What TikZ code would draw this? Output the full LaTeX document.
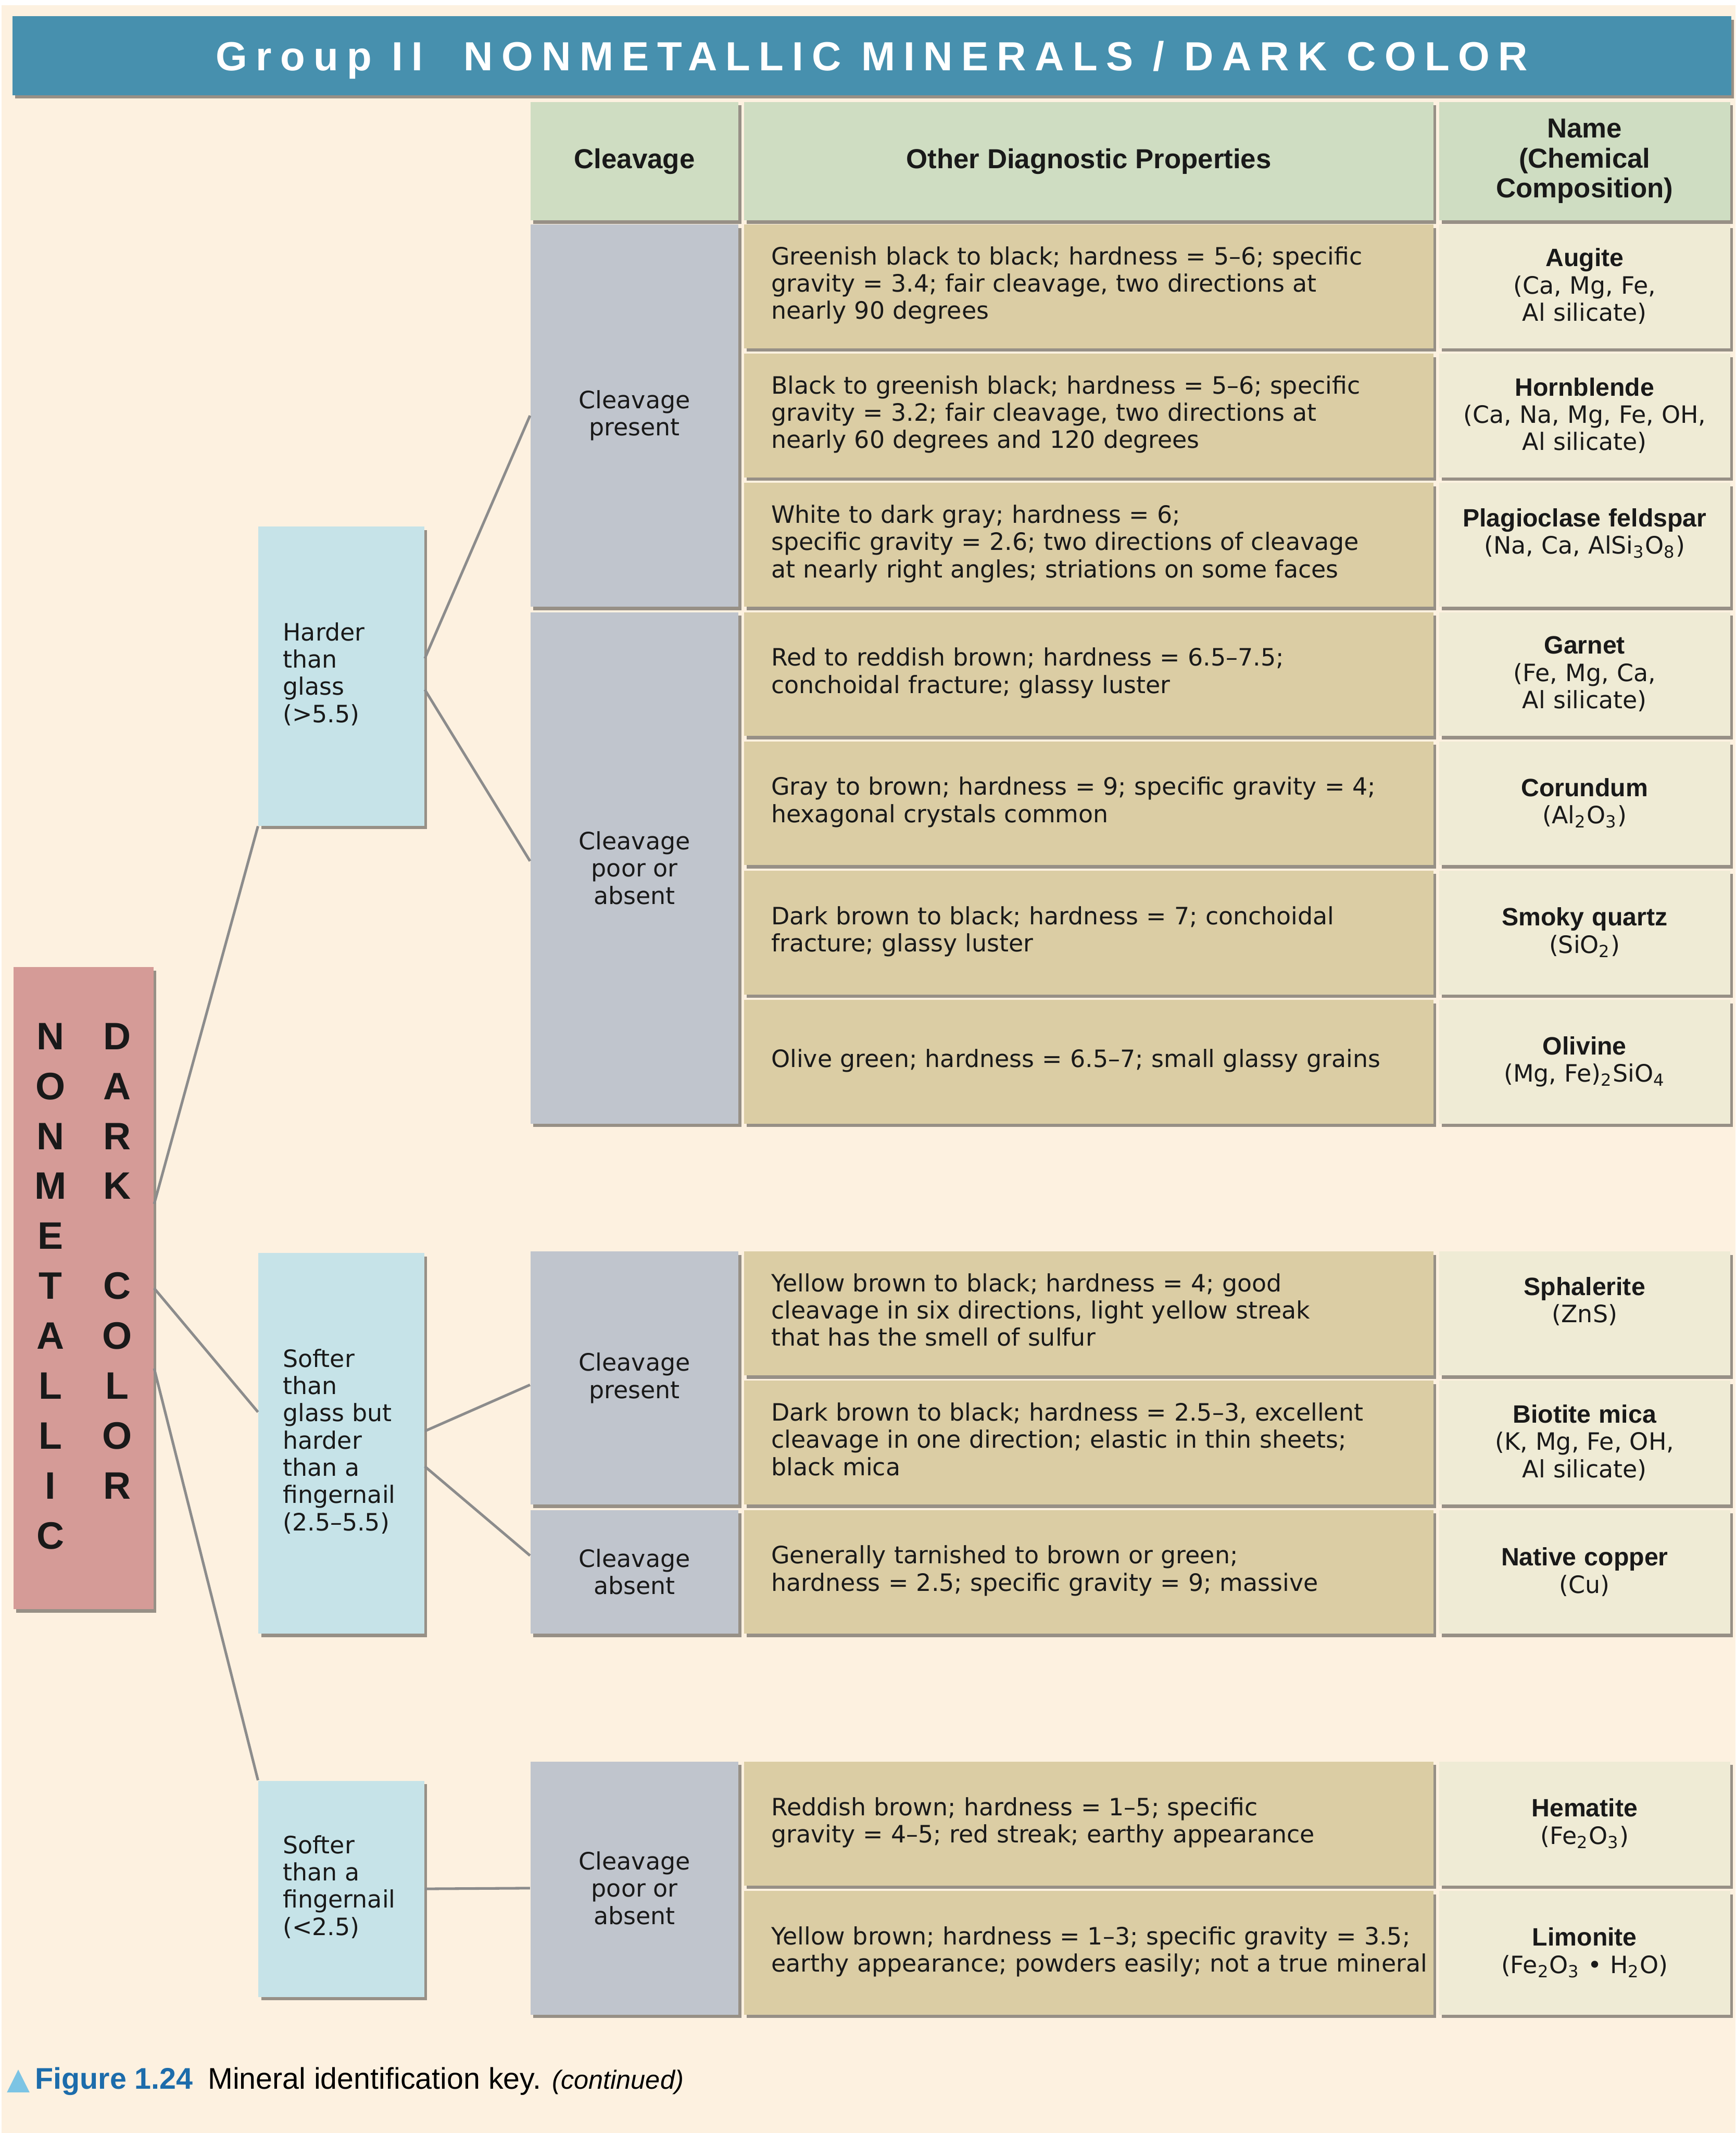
\documentclass[tikz,border=0pt]{standalone}
\usepackage{fontspec}
\setmainfont{DejaVu Sans}
\newfontfamily\arialfont{Liberation Sans}
\newfontfamily\titlefont{Liberation Sans}[LetterSpace=21]
\usetikzlibrary{shadows}
\definecolor{bgcream}{HTML}{FDF1E0}
\definecolor{titleblue}{HTML}{4790AE}
\definecolor{headgreen}{HTML}{CFDDC2}
\definecolor{cleavgray}{HTML}{C0C5CD}
\definecolor{proptan}{HTML}{DBCDA4}
\definecolor{namecream}{HTML}{EFEBD5}
\definecolor{hardblue}{HTML}{C6E3E8}
\definecolor{mainpink}{HTML}{D59B97}
\definecolor{linegray}{HTML}{8C8C8C}
\definecolor{capblue}{HTML}{1C6CAB}
\definecolor{triblue}{HTML}{7CC4E4}
\newcommand{\lines}[1]{\begin{tabular}{@{}l@{}}#1\end{tabular}}
\newcommand{\mname}[1]{{\arialfont\bfseries\fontsize{10.5}{11.4}\selectfont #1}}
\newcommand{\sbs}[1]{\textsubscript{#1}}

\begin{document}
\begin{tikzpicture}[x=0.02cm,y=-0.02cm,
    box/.style={inner sep=0pt,text=black!90,
      drop shadow={shadow xshift=0.04cm,shadow yshift=-0.05cm,fill=black,opacity=0.4}},
    txt/.style={font=\fontsize{10}{11.4}\selectfont},
    head/.style={box,fill=headgreen,minimum height=1.74cm,align=center,
      font=\arialfont\bfseries\fontsize{11.5}{12.5}\selectfont},
    cleav/.style={box,txt,fill=cleavgray,minimum width=3.06cm,align=center},
    prop/.style={box,txt,fill=proptan,minimum width=10.14cm,minimum height=1.82cm,
      text width=9.34cm,inner xsep=0.4cm,align=left},
    mineral/.style={box,txt,fill=namecream,minimum width=4.28cm,minimum height=1.82cm,
      text width=4.0cm,inner xsep=0.14cm,align=center},
    hardness/.style={box,txt,fill=hardblue,minimum width=2.44cm,
      text width=1.72cm,inner xsep=0.36cm,align=left},
    letters/.style={inner sep=0pt,align=center,text=black!90,
      font=\arialfont\bfseries\fontsize{16}{20.9}\selectfont},
    link/.style={draw=linegray,line width=1.1pt}]
  \useasboundingbox (0,0) rectangle (1276,1568);
  \fill[white] (0,0) rectangle (1276,1568);
  \fill[bgcream] (1,4) rectangle (1276,1568);

  % title and column heads
  \node[box,fill=titleblue,minimum width=25.28cm,minimum height=1.16cm,text=white,
    text height=12.2pt,text depth=0pt,
    font=\titlefont\bfseries\fontsize{17}{20}\selectfont] (title) at (641,41)
    {Group II\hspace{0.6cm}NONMETALLIC MINERALS / DARK COLOR};
  \node[head,minimum width=3.06cm] (hcleav) at (466.5,118.5) {Cleavage};
  \node[head,minimum width=10.14cm] (hprop) at (800.5,118.5) {Other Diagnostic Properties};
  \node[head,minimum width=4.28cm] (hname) at (1165,118.5) {Name\\(Chemical\\Composition)};

  % left part of the key
  \node[box,fill=mainpink,minimum width=2.06cm,minimum height=9.44cm] (main) at (61.5,947) {};
  \node[letters] (nonmet) at (37,945.5) {N\\O\\N\\M\\E\\T\\A\\L\\L\\I\\C};
  \node[letters] (dark) at (86,927) {D\\A\\R\\K\\\mbox{}\\C\\O\\L\\O\\R};

  \node[hardness,minimum height=4.4cm] (hard) at (251,497) {\lines{Harder\\than\\glass\\(>5.5)}};
  \node[hardness,minimum height=5.6cm] (soft) at (251,1061)
    {\lines{Softer\\than\\glass but\\harder\\than a\\fingernail\\(2.5–5.5)}};
  \node[hardness,minimum height=3.18cm] (nail) at (251,1388.5)
    {\lines{Softer\\than a\\fingernail\\(<2.5)}};

  \node[cleav,minimum height=5.62cm] (cl1) at (466.5,305.5) {Cleavage\\present};
  \node[cleav,minimum height=7.52cm] (cl2) at (466.5,638) {Cleavage\\poor or\\absent};
  \node[cleav,minimum height=3.72cm] (cl3) at (466.5,1013) {Cleavage\\present};
  \node[cleav,minimum height=1.82cm] (cl4) at (466.5,1155.5) {Cleavage\\absent};
  \node[cleav,minimum height=3.72cm] (cl5) at (466.5,1388) {Cleavage\\poor or\\absent};

  % properties
  \node[prop] (p1) at (800.5,210.5) {\lines{Greenish black to black; hardness = 5–6; specific\\gravity = 3.4; fair cleavage, two directions at\\nearly 90 degrees}};
  \node[prop] (p2) at (800.5,305.5) {\lines{Black to greenish black; hardness = 5–6; specific\\gravity = 3.2; fair cleavage, two directions at\\nearly 60 degrees and 120 degrees}};
  \node[prop] (p3) at (800.5,400.5) {\lines{White to dark gray; hardness = 6;\\specific gravity = 2.6; two directions of cleavage\\at nearly right angles; striations on some faces}};
  \node[prop] (p4) at (800.5,495.5) {\lines{Red to reddish brown; hardness = 6.5–7.5;\\conchoidal fracture; glassy luster}};
  \node[prop] (p5) at (800.5,590.5) {\lines{Gray to brown; hardness = 9; specific gravity = 4;\\hexagonal crystals common}};
  \node[prop] (p6) at (800.5,685.5) {\lines{Dark brown to black; hardness = 7; conchoidal\\fracture; glassy luster}};
  \node[prop] (p7) at (800.5,780.5) {\lines{Olive green; hardness = 6.5–7; small glassy grains}};
  \node[prop] (p8) at (800.5,965.5) {\lines{Yellow brown to black; hardness = 4; good\\cleavage in six directions, light yellow streak\\that has the smell of sulfur}};
  \node[prop] (p9) at (800.5,1060.5) {\lines{Dark brown to black; hardness = 2.5–3, excellent\\cleavage in one direction; elastic in thin sheets;\\black mica}};
  \node[prop] (p10) at (800.5,1155.5) {\lines{Generally tarnished to brown or green;\\hardness = 2.5; specific gravity = 9; massive}};
  \node[prop] (p11) at (800.5,1340.5) {\lines{Reddish brown; hardness = 1–5; specific\\gravity = 4–5; red streak; earthy appearance}};
  \node[prop] (p12) at (800.5,1435.5) {\lines{Yellow brown; hardness = 1–3; specific gravity = 3.5;\\earthy appearance; powders easily; not a true mineral}};

  % names
  \node[mineral] (n1) at (1165,210.5) {\mname{Augite}\\(Ca, Mg, Fe,\\Al silicate)};
  \node[mineral] (n2) at (1165,305.5) {\mname{Hornblende}\\(Ca, Na, Mg, Fe, OH,\\Al silicate)};
  \node[mineral] (n3) at (1165,400.5) {\mname{Plagioclase feldspar}\\(Na, Ca, AlSi\sbs{3}O\sbs{8})\\\mbox{}};
  \node[mineral] (n4) at (1165,495.5) {\mname{Garnet}\\(Fe, Mg, Ca,\\Al silicate)};
  \node[mineral] (n5) at (1165,590.5) {\mname{Corundum}\\(Al\sbs{2}O\sbs{3})};
  \node[mineral] (n6) at (1165,685.5) {\mname{Smoky quartz}\\(SiO\sbs{2})};
  \node[mineral] (n7) at (1165,780.5) {\mname{Olivine}\\(Mg, Fe)\sbs{2}SiO\sbs{4}};
  \node[mineral] (n8) at (1165,965.5) {\mname{Sphalerite}\\(ZnS)\\\mbox{}};
  \node[mineral] (n9) at (1165,1060.5) {\mname{Biotite mica}\\(K, Mg, Fe, OH,\\Al silicate)};
  \node[mineral] (n10) at (1165,1155.5) {\mname{Native copper}\\(Cu)};
  \node[mineral] (n11) at (1165,1340.5) {\mname{Hematite}\\(Fe\sbs{2}O\sbs{3})};
  \node[mineral] (n12) at (1165,1435.5) {\mname{Limonite}\\(Fe\sbs{2}O\sbs{3} • H\sbs{2}O)};

  % branches
  \draw[link] ([yshift=1.24cm]main.east) -- (hard.south west);
  \draw[link] (main.east) -- ([yshift=0.46cm]soft.west);
  \draw[link] ([yshift=-1.18cm]main.east) -- (nail.north west);
  \draw[link] ([yshift=0.26cm]hard.east) -- (cl1.west);
  \draw[link] ([yshift=-0.2cm]hard.east) -- ([yshift=0.1cm]cl2.west);
  \draw[link] ([yshift=0.18cm]soft.east) -- ([yshift=-0.1cm]cl3.west);
  \draw[link] ([yshift=-0.34cm]soft.east) -- ([yshift=0.24cm]cl4.west);
  \draw[link] (nail.east) -- (cl5.west);

  \node[anchor=west,inner sep=0pt,font=\arialfont\fontsize{12.5}{14}\selectfont] (caption) at (5,1530)
    {{\normalfont\textcolor{triblue}{▲}}\,\textcolor{capblue}{\bfseries Figure 1.24}\hspace{0.22cm}Mineral identification key. {\fontsize{11}{12}\selectfont\itshape (continued)}};
\end{tikzpicture}
\end{document}
